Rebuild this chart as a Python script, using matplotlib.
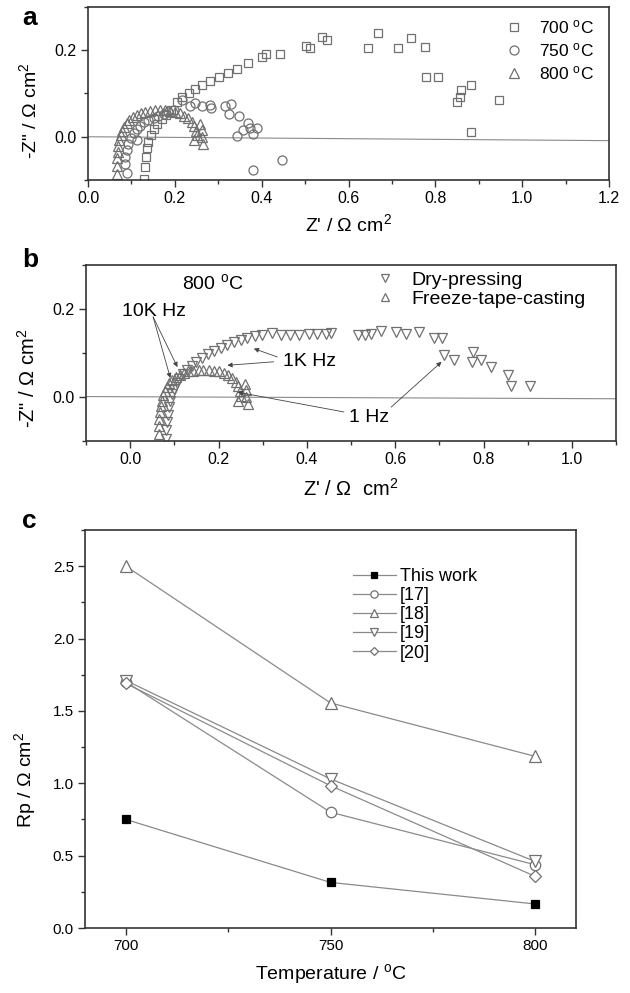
import matplotlib

matplotlib.use("Agg")
import matplotlib.pyplot as plt
from matplotlib.ticker import MultipleLocator

plt.rcParams["font.family"] = ["Liberation Sans", "DejaVu Sans"]
plt.rcParams["mathtext.default"] = "regular"

# ---- panel a: impedance spectra at three temperatures ----
sq700_x = [0.128, 0.132, 0.134, 0.135, 0.139, 0.145, 0.152, 0.160, 0.170, 0.180,
           0.192, 0.204, 0.216, 0.232, 0.246, 0.262, 0.282, 0.301, 0.322, 0.343,
           0.369, 0.401, 0.411, 0.443, 0.501, 0.512, 0.539, 0.551, 0.645, 0.668,
           0.715, 0.745, 0.776, 0.779, 0.806, 0.851, 0.857, 0.859, 0.882, 0.882, 0.946]
sq700_y = [-0.098, -0.070, -0.046, -0.027, -0.012, 0.004, 0.018, 0.030, 0.040, 0.050,
           0.062, 0.081, 0.091, 0.101, 0.110, 0.119, 0.128, 0.138, 0.147, 0.157,
           0.171, 0.184, 0.192, 0.192, 0.209, 0.206, 0.230, 0.223, 0.206, 0.240,
           0.205, 0.228, 0.207, 0.137, 0.138, 0.081, 0.093, 0.107, 0.119, 0.012, 0.085]

ci750_x = [0.089, 0.085, 0.086, 0.089, 0.093, 0.099, 0.105, 0.112, 0.120, 0.129,
           0.139, 0.151, 0.162, 0.174, 0.185, 0.197, 0.216, 0.235, 0.247, 0.262,
           0.282, 0.283, 0.316, 0.329, 0.325, 0.347, 0.369, 0.357, 0.372, 0.389,
           0.343, 0.380, 0.380, 0.447, 0.114]
ci750_y = [-0.084, -0.063, -0.046, -0.031, -0.017, -0.004, 0.008, 0.017, 0.025, 0.033,
           0.039, 0.044, 0.049, 0.053, 0.057, 0.062, 0.085, 0.071, 0.078, 0.071,
           0.074, 0.066, 0.071, 0.076, 0.052, 0.048, 0.031, 0.016, 0.020, 0.020,
           0.002, 0.006, -0.078, -0.053, -0.008]

tri800_x = [0.066, 0.066, 0.066, 0.068, 0.070, 0.072, 0.075, 0.079, 0.084, 0.089,
            0.095, 0.103, 0.112, 0.122, 0.132, 0.143, 0.155, 0.166, 0.178, 0.189,
            0.201, 0.212, 0.222, 0.231, 0.239, 0.245, 0.249, 0.250, 0.245, 0.259,
            0.262, 0.262, 0.266]
tri800_y = [-0.085, -0.067, -0.050, -0.035, -0.021, -0.008, 0.004, 0.014, 0.023, 0.031,
            0.039, 0.045, 0.050, 0.054, 0.058, 0.060, 0.062, 0.062, 0.062, 0.060,
            0.058, 0.054, 0.049, 0.043, 0.035, 0.025, 0.014, 0.003, -0.008, 0.029,
            0.016, 0.000, -0.016]

base_a_x = [0.0, 1.2]
base_a_y = [0.0, -0.009]

# ---- panel b: dry-pressing vs freeze-tape-casting at 800 C ----
dry_x = [0.080, 0.082, 0.083, 0.085, 0.087, 0.091, 0.095, 0.099, 0.105, 0.111,
         0.119, 0.129, 0.139, 0.150, 0.163, 0.176, 0.189, 0.205, 0.220, 0.235,
         0.250, 0.265, 0.282, 0.299, 0.320, 0.341, 0.362, 0.383, 0.404, 0.424,
         0.443, 0.455, 0.515, 0.532, 0.545, 0.567, 0.602, 0.625, 0.653, 0.687,
         0.707, 0.711, 0.734, 0.776, 0.774, 0.794, 0.818, 0.855, 0.862, 0.905]
dry_y = [-0.095, -0.076, -0.057, -0.040, -0.023, -0.008, 0.006, 0.019, 0.031, 0.042,
         0.052, 0.061, 0.070, 0.079, 0.088, 0.097, 0.104, 0.112, 0.118, 0.124,
         0.130, 0.135, 0.139, 0.142, 0.146, 0.141, 0.141, 0.142, 0.143, 0.143,
         0.143, 0.145, 0.141, 0.141, 0.143, 0.150, 0.148, 0.143, 0.148, 0.135,
         0.135, 0.096, 0.084, 0.103, 0.080, 0.083, 0.069, 0.050, 0.026, 0.024]

freeze_x = tri800_x   # same 800 C spectrum as in panel a
freeze_y = tri800_y

base_b_x = [-0.1, 1.1]
base_b_y = [0.001, -0.004]

# frequency call-outs: (label, text pos, [(arrow start, arrow tip), ...])
callouts = [
    ("10K Hz", (-0.018, 0.194), [((0.052, 0.182), (0.091, 0.043)),
                                 ((0.052, 0.182), (0.107, 0.068))]),
    ("1K Hz", (0.345, 0.080), [((0.325, 0.080), (0.220, 0.072)),
                               ((0.333, 0.091), (0.280, 0.110))]),
    ("1 Hz", (0.495, -0.046), [((0.484, -0.034), (0.243, 0.011)),
                               ((0.591, -0.023), (0.705, 0.080))]),
]

# ---- panel c: polarization resistance vs temperature ----
temps = [700, 750, 800]
rp_this = [0.75, 0.315, 0.166]
rp_17 = [1.70, 0.80, 0.437]
rp_18 = [2.50, 1.555, 1.186]
rp_19 = [1.71, 1.03, 0.46]
rp_20 = [1.69, 0.983, 0.357]
series_c = [
    ("This work", rp_this, "s", "black", 6),
    ("[17]", rp_17, "o", "white", 7.5),
    ("[18]", rp_18, "^", "white", 8.5),
    ("[19]", rp_19, "v", "white", 8.5),
    ("[20]", rp_20, "D", "white", 6.5),
]

W, H = 630, 993
GRAY = "#707070"
LINE = "#8a8a8a"
SPINE = "#333333"

fig = plt.figure(figsize=(W / 100, H / 100), dpi=100)


def px_axes(left, top, right, bottom):
    return fig.add_axes([left / W, 1 - bottom / H, (right - left) / W, (bottom - top) / H])


def style(ax, size):
    for s in ax.spines.values():
        s.set_color(SPINE)
        s.set_linewidth(1.2)
    ax.tick_params(which="both", direction="out", top=False, right=False,
                   color=SPINE, width=1.0, labelsize=size, pad=3)
    ax.tick_params(which="major", length=5)
    ax.tick_params(which="minor", length=3)


deg = "$^{o}$"
cm2 = "cm$^{2}$"

# panel a
ax = px_axes(88, 7, 609, 180)
style(ax, 11.5)
ax.plot(base_a_x, base_a_y, color=LINE, lw=0.8, zorder=1)
mk = dict(linestyle="none", mfc="none", mec=GRAY, mew=0.9)
ax.plot(sq700_x, sq700_y, marker="s", ms=6, label=f"700 {deg}C", **mk)
ax.plot(ci750_x, ci750_y, marker="o", ms=6.5, label=f"750 {deg}C", **mk)
ax.plot(tri800_x, tri800_y, marker="^", ms=7, label=f"800 {deg}C", **mk)
ax.set_xlim(0, 1.2)
ax.set_ylim(-0.1, 0.3)
ax.xaxis.set_major_locator(MultipleLocator(0.2))
ax.xaxis.set_minor_locator(MultipleLocator(0.1))
ax.yaxis.set_major_locator(MultipleLocator(0.2))
ax.yaxis.set_minor_locator(MultipleLocator(0.1))
ax.set_xlabel(f"Z' / Ω {cm2}", fontsize=14, va="top")
ax.xaxis.set_label_coords(0.5, -0.19)
ax.set_ylabel(f'-Z" / Ω {cm2}', fontsize=14)
ax.yaxis.set_label_coords(-0.092, 0.40)
ax.legend(loc="upper left", bbox_to_anchor=(505 / W, 1 - 18 / H),
          bbox_transform=fig.transFigure, frameon=False, fontsize=12.5,
          handlelength=1.0, handletextpad=0.95, labelspacing=0.3,
          borderpad=0, borderaxespad=0, numpoints=1)

# panel b
ax = px_axes(86, 265, 616, 441)
style(ax, 11.5)
ax.plot(base_b_x, base_b_y, color=LINE, lw=0.8, zorder=1)
ax.plot(dry_x, dry_y, marker="v", ms=7, label="Dry-pressing", **mk)
ax.plot(freeze_x, freeze_y, marker="^", ms=7, label="Freeze-tape-casting", **mk)
for label, tpos, arrows in callouts:
    ax.text(*tpos, label, fontsize=14, ha="left", va="center")
    for start, tip in arrows:
        ax.annotate("", xy=tip, xytext=start,
                    arrowprops=dict(arrowstyle="-|>", color="#444444", lw=0.6,
                                    mutation_scale=7, shrinkA=0, shrinkB=0))
ax.text(0.117, 0.259, f"800 {deg}C", fontsize=14, ha="left", va="center")
ax.set_xlim(-0.1, 1.1)
ax.set_ylim(-0.1, 0.3)
ax.xaxis.set_major_locator(MultipleLocator(0.2))
ax.xaxis.set_minor_locator(MultipleLocator(0.1))
ax.yaxis.set_major_locator(MultipleLocator(0.2))
ax.yaxis.set_minor_locator(MultipleLocator(0.1))
ax.set_xlabel(f"Z' / Ω  {cm2}", fontsize=14.5, va="top")
ax.xaxis.set_label_coords(0.5, -0.21)
ax.set_ylabel(f'-Z" / Ω {cm2}', fontsize=14.5)
ax.yaxis.set_label_coords(-0.089, 0.355)
ax.legend(loc="upper left", bbox_to_anchor=(377 / W, 1 - 271 / H),
          bbox_transform=fig.transFigure, frameon=False, fontsize=14,
          handlelength=0.8, handletextpad=0.97, labelspacing=0.08,
          borderpad=0, borderaxespad=0, numpoints=1, markerscale=0.85)

# panel c
ax = px_axes(85, 530, 576, 928)
style(ax, 11)
for label, vals, marker, face, size in series_c:
    ax.plot(temps, vals, color=LINE, lw=0.9, marker=marker, ms=size,
            mfc=face, mec=GRAY if face == "white" else "black", mew=0.9,
            label=label)
ax.set_xlim(690, 810)
ax.set_ylim(0, 2.75)
ax.xaxis.set_major_locator(MultipleLocator(50))
ax.xaxis.set_minor_locator(MultipleLocator(25))
ax.yaxis.set_major_locator(MultipleLocator(0.5))
ax.yaxis.set_minor_locator(MultipleLocator(0.25))
ax.set_xlabel(f"Temperature / {deg}C", fontsize=14, va="top")
ax.xaxis.set_label_coords(0.5, -0.085)
ax.set_ylabel(f"Rp / Ω {cm2}", fontsize=14)
ax.yaxis.set_label_coords(-0.096, 0.372)
ax.legend(loc="upper left", bbox_to_anchor=(353 / W, 1 - 568 / H),
          bbox_transform=fig.transFigure, frameon=False, fontsize=13,
          handlelength=2.36, handletextpad=0.25, labelspacing=0.12,
          borderpad=0, borderaxespad=0, numpoints=1, markerscale=0.7)

# panel letters
for letter, base in (("a", 25), ("b", 267), ("c", 528)):
    fig.text(22 / W, 1 - base / H, letter, fontsize=19, fontweight="bold",
             ha="left", va="baseline")

fig.savefig("out.png", dpi=100)
